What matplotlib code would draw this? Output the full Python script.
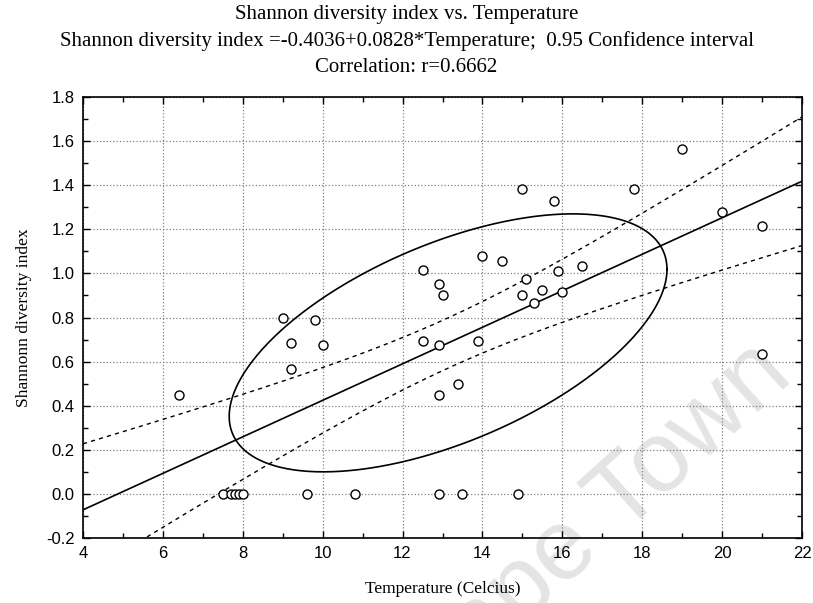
import numpy as np
import matplotlib.pyplot as plt
from matplotlib.ticker import MultipleLocator, FormatStrFormatter

# --------------------------------------------------------------------------- #
# Data
# --------------------------------------------------------------------------- #
temperature = [6.4, 9.0, 9.8, 9.2, 10.0, 9.2, 12.5, 12.5, 12.9, 13.0,
               12.9, 12.9, 13.4, 13.9, 14.0, 14.5, 15.0, 15.8, 15.1, 15.0,
               15.3, 15.5, 15.9, 16.0, 16.5, 17.8, 19.0, 20.0, 21.0, 21.0,
               7.5, 7.7, 7.8, 7.9, 8.0, 9.6, 10.8, 12.9, 13.5, 14.9]
shannon = [0.45, 0.80, 0.79, 0.685, 0.675, 0.565, 1.015, 0.695, 0.95, 0.90,
           0.675, 0.45, 0.50, 0.695, 1.08, 1.055, 1.385, 1.33, 0.975, 0.90,
           0.865, 0.925, 1.01, 0.915, 1.035, 1.385, 1.565, 1.28, 1.215, 0.635,
           0.0, 0.0, 0.0, 0.0, 0.0, 0.0, 0.0, 0.0, 0.0, 0.0]

INTERCEPT, SLOPE = -0.4036, 0.0828
R_CORR = 0.6662
T_CRIT = 2.024          # t(0.975, df=38)

# ellipse as drawn in the original (half extents + tilt correlation)
ELL_X_HALF, ELL_Y_HALF, ELL_R = 5.48, 0.585, 0.57

x_ticks = [4, 6, 8, 10, 12, 14, 16, 18, 20, 22]
y_ticks = [-0.2, 0.0, 0.2, 0.4, 0.6, 0.8, 1.0, 1.2, 1.4, 1.6, 1.8]

SERIF = ["Liberation Serif", "DejaVu Serif"]
NARROW = ["Liberation Sans Narrow", "Liberation Sans", "DejaVu Sans"]

# --------------------------------------------------------------------------- #
# Regression line, 95% band, ellipse
# --------------------------------------------------------------------------- #
x = np.array(temperature)
y = np.array(shannon)
n = len(x)

xs = np.linspace(x_ticks[0], x_ticks[-1], 200)
fit = INTERCEPT + SLOPE * xs
resid = y - (INTERCEPT + SLOPE * x)
s = np.sqrt((resid ** 2).sum() / (n - 2))
sxx = ((x - x.mean()) ** 2).sum()
half = T_CRIT * s * np.sqrt(1 / n + (xs - x.mean()) ** 2 / sxx)

t = np.linspace(0, 2 * np.pi, 400)
ell_x = x.mean() + ELL_X_HALF * np.cos(t)
ell_y = y.mean() + ELL_Y_HALF * (ELL_R * np.cos(t) + np.sqrt(1 - ELL_R ** 2) * np.sin(t))

# --------------------------------------------------------------------------- #
# Plot
# --------------------------------------------------------------------------- #
fig = plt.figure(figsize=(8.13, 6.03), dpi=100)
ax = fig.add_axes([83 / 813, 1 - 538 / 603, (802 - 83) / 813, (538 - 97) / 603])

ax.grid(True, which="major", linestyle=":", color="#808080", linewidth=0.9)

# faint repository watermark, behind the axis labels
ax.text(0.978, 0.372, "University of Cape Town", transform=fig.transFigure,
        rotation=42, rotation_mode="anchor", ha="right", va="baseline",
        fontsize=72, color="#e4e4e4", family=["Liberation Sans"],
        clip_on=False, zorder=1.2)

ax.plot(xs, fit, color="black", linewidth=1.2, zorder=3)
ax.plot(xs, fit + half, color="black", linewidth=1.0, linestyle=(0, (3, 3)), zorder=3)
ax.plot(xs, fit - half, color="black", linewidth=1.0, linestyle=(0, (3, 3)), zorder=3)
ax.plot(ell_x, ell_y, color="black", linewidth=1.2, zorder=3)

ax.plot(x, y, linestyle="none", marker="o", markersize=6.5,
        markerfacecolor="white", markeredgecolor="black", markeredgewidth=1.0, zorder=4)

ax.set_xlim(x_ticks[0], x_ticks[-1])
ax.set_ylim(y_ticks[0], y_ticks[-1])
ax.set_xticks(x_ticks)
ax.set_yticks(y_ticks)
ax.xaxis.set_minor_locator(MultipleLocator(1))
ax.yaxis.set_minor_locator(MultipleLocator(0.1))
ax.yaxis.set_major_formatter(FormatStrFormatter("%.1f"))
ax.tick_params(which="both", direction="in", top=True, right=True, width=1.0)
ax.tick_params(which="major", length=5, pad=6)
ax.tick_params(which="minor", length=3.5)
for lab in ax.get_xticklabels() + ax.get_yticklabels():
    lab.set_family(NARROW)
    lab.set_fontsize(12)
for sp in ax.spines.values():
    sp.set_linewidth(1.2)

ax.set_xlabel("Temperature (Celcius)", family=SERIF, fontsize=12.5, labelpad=14)
ax.set_ylabel("Shannonn diversity index", family=SERIF, fontsize=12.5, labelpad=10)

fig.text(0.5, 1 - 15 / 603, "Shannon diversity index vs. Temperature",
         ha="center", va="center", family=SERIF, fontsize=15)
fig.text(0.5, 1 - 41 / 603,
         "Shannon diversity index =-0.4036+0.0828*Temperature;  0.95 Confidence interval",
         ha="center", va="center", family=SERIF, fontsize=15)
fig.text(0.5, 1 - 67 / 603, f"Correlation: r={R_CORR:.4f}",
         ha="center", va="center", family=SERIF, fontsize=15)

fig.savefig("out.png", dpi=100)
